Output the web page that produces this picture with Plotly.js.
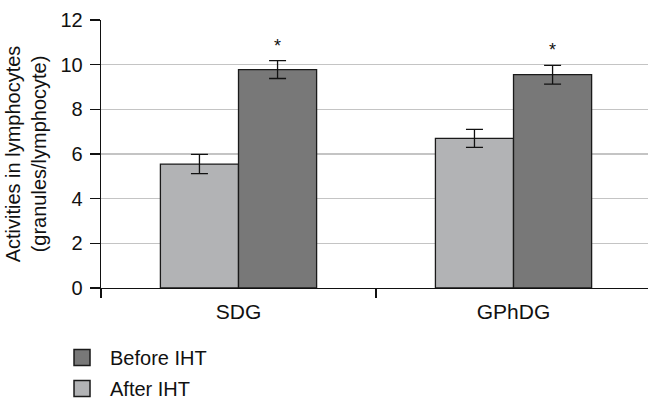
<!DOCTYPE html>
<html>
<head>
<meta charset="utf-8">
<script src="https://cdn.plot.ly/plotly-3.0.1.min.js"></script>
<style>html,body{margin:0;padding:0;background:#fff;}#chart{width:648px;height:408px;}</style>
</head>
<body>
<div id="chart"></div>
<script>
var categories = ["SDG", "GPhDG"];
var afterValues = [5.55, 6.7];
var afterErrors = [0.43, 0.4];
var beforeValues = [9.78, 9.55];
var beforeErrors = [0.4, 0.42];
var significance = ["*", "*"];
var yTicks = [0, 2, 4, 6, 8, 10, 12];
var seriesNames = ["After IHT", "Before IHT"];
var seriesColors = ["#b2b3b5", "#787878"];

var FONT = "Liberation Sans, Arial, Helvetica, sans-serif";
var barLine = {color: "#1a1a1a", width: 1.3};
var errStyle = {type: "data", visible: true, color: "#111", thickness: 1.3, width: 8.5};

var traces = [
  {
    type: "bar", name: seriesNames[0], x: categories, y: afterValues,
    marker: {color: seriesColors[0], line: barLine},
    error_y: Object.assign({array: afterErrors}, errStyle),
    showlegend: false, hoverinfo: "skip"
  },
  {
    type: "bar", name: seriesNames[1], x: categories, y: beforeValues,
    marker: {color: seriesColors[1], line: barLine},
    error_y: Object.assign({array: beforeErrors}, errStyle),
    showlegend: false, hoverinfo: "skip"
  },
  // legend entries (square keys)
  {
    type: "scatter", mode: "markers", name: seriesNames[0], x: [null], y: [null],
    legendgroup: "a", legendrank: 2,
    marker: {symbol: "square", size: 16, color: seriesColors[0], line: {color: "#1a1a1a", width: 1.5}},
    hoverinfo: "skip"
  },
  {
    type: "scatter", mode: "markers", name: seriesNames[1], x: [null], y: [null],
    legendgroup: "b", legendrank: 1,
    marker: {symbol: "square", size: 16, color: seriesColors[1], line: {color: "#1a1a1a", width: 1.5}},
    hoverinfo: "skip"
  }
];

var groupWidth = 1 - 0.432;
var annotations = categories.map(function (c, i) {
  return {
    x: i + groupWidth / 4, xref: "x",
    y: beforeValues[i] + beforeErrors[i], yref: "y",
    text: significance[i], showarrow: false,
    yanchor: "bottom", yshift: 3,
    font: {family: FONT, size: 18, color: "#111"}
  };
});

var layout = {
  width: 648, height: 408,
  margin: {l: 101, r: 0, t: 20, b: 112},
  paper_bgcolor: "#fff", plot_bgcolor: "#fff",
  font: {family: FONT, color: "#111", size: 20},
  barmode: "group", bargap: 0.432, bargroupgap: 0,
  showlegend: true,
  legend: {
    orientation: "v", tracegroupgap: 2, itemwidth: 46,
    x: -0.0859, xanchor: "left", y: -0.188, yanchor: "top",
    font: {family: FONT, size: 20, color: "#111"},
    bgcolor: "rgba(0,0,0,0)"
  },
  xaxis: {
    type: "category", range: [-0.5, 1.489],
    showline: true, linecolor: "#111", linewidth: 1.3,
    ticks: "outside", tickson: "boundaries", ticklen: 9, tickwidth: 1.3, tickcolor: "#111",
    ticklabelstandoff: 4,
    tickfont: {family: FONT, size: 21, color: "#111"},
    showgrid: false, zeroline: false, fixedrange: true
  },
  yaxis: {
    range: [0, 12], tickvals: yTicks, ticktext: yTicks.map(String),
    showline: true, linecolor: "#111", linewidth: 1.3,
    ticks: "outside", ticklen: 10, tickwidth: 1.3, tickcolor: "#111",
    ticklabelstandoff: 3,
    tickfont: {family: FONT, size: 20, color: "#111"},
    showgrid: true, gridcolor: "#c4c4c4", gridwidth: 1.2,
    zeroline: false, fixedrange: true,
    title: {text: "Activities in lymphocytes<br>(granules/lymphocyte)", font: {family: FONT, size: 20, color: "#111"}, standoff: 8}
  },
  annotations: annotations
};

Plotly.newPlot("chart", traces, layout, {displayModeBar: false, staticPlot: true});
</script>
</body>
</html>
